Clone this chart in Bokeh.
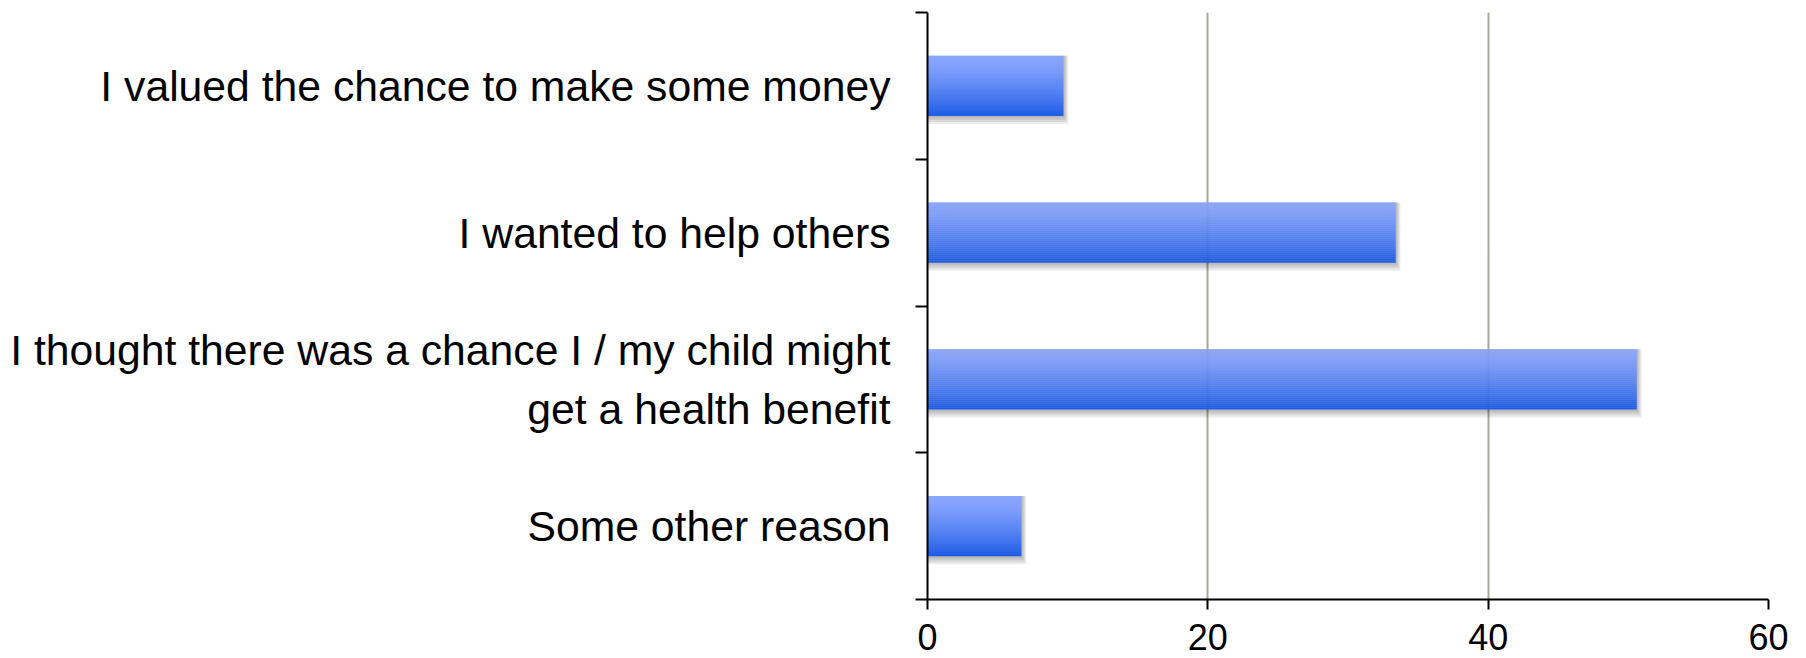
import numpy as np
from bokeh.plotting import figure
from bokeh.models import (Range1d, LinearAxis, FixedTicker, ColumnDataSource, Grid)
from bokeh.transform import dodge
from bokeh.embed import file_html
from bokeh.resources import INLINE

categories = [
    "I valued the chance to make some money",
    "I wanted to help others",
    "I thought there was a chance I / my child might\nget a health benefit",
    "Some other reason",
]
values = [9.7, 33.4, 50.6, 6.7]
x_ticks = [0, 20, 40, 60]
x_max = 60

n = len(categories)
ypos = [n - 1 - i + 0.5 for i in range(n)]   # slot centres, first category on top
src = ColumnDataSource(dict(cat=categories, val=values, y=ypos))

p = figure(width=1806, height=658,
           y_range=Range1d(0, n),
           x_range=Range1d(0, x_max),
           output_backend="svg", toolbar_location=None,
           x_axis_location=None, y_axis_location=None,
           min_border_left=927, min_border_right=38,
           min_border_top=12, min_border_bottom=59)
p.outline_line_color = None
p.background_fill_color = "white"
p.border_fill_color = "white"
p.center = []

# grid lines
p.add_layout(Grid(dimension=0, ticker=FixedTicker(ticks=x_ticks[1:]),
                  grid_line_color="#a8a898", grid_line_width=2))

bar_h = 0.41
px_x = x_max / 841.0
px_y = 1.0 / 146.75

# soft shadow
for k in range(1, 5):
    p.hbar(y=dodge('y', -k * px_y), right=dodge('val', 1.2 * k * px_x), left=0,
           height=bar_h + 2 * k * px_y, source=src,
           fill_color="black", fill_alpha=0.075, line_color=None)

# gradient bars
top = np.array([138, 166, 255])
bot = np.array([30, 92, 228])
N = 30
for i in range(N):
    t = (i + 0.5) / N
    tt = t ** 1.35
    c = top + (bot - top) * tt
    col = "#%02x%02x%02x" % tuple(int(round(v)) for v in c)
    off = bar_h / 2 - (i + 0.5) * bar_h / N
    p.hbar(y=dodge('y', off), right='val', left=0,
           height=bar_h / N * 1.08, source=src,
           fill_color=col, line_color=None)

# axes
slot_axis = LinearAxis(ticker=FixedTicker(ticks=list(range(n + 1)), minor_ticks=[]),
                       major_tick_out=12, major_tick_in=0,
                       minor_tick_out=0, minor_tick_in=0,
                       axis_line_width=2, major_tick_line_width=2,
                       axis_line_color="black", major_tick_line_color="black",
                       major_label_text_font_size="0px", major_label_standoff=0,
                       major_label_overrides={i: "" for i in range(n + 1)})
p.add_layout(slot_axis, "left")

cat_axis = LinearAxis(ticker=FixedTicker(ticks=ypos, minor_ticks=[]),
                      major_label_overrides={y: c for y, c in zip(ypos, categories)},
                      major_tick_out=0, major_tick_in=0,
                      minor_tick_out=0, minor_tick_in=0,
                      axis_line_color=None, major_tick_line_color=None,
                      major_label_standoff=25,
                      major_label_text_font_size="42.7px",
                      major_label_text_font="Liberation Sans",
                      major_label_text_color="black",
                      major_label_text_line_height=1.22)
p.add_layout(cat_axis, "left")

xaxis = LinearAxis(ticker=FixedTicker(ticks=x_ticks, minor_ticks=[]),
                   major_tick_out=10, major_tick_in=0,
                   minor_tick_out=0, minor_tick_in=0,
                   axis_line_width=2, major_tick_line_width=2,
                   axis_line_color="black", major_tick_line_color="black",
                   major_label_text_font_size="36px",
                   major_label_text_font="Liberation Sans",
                   major_label_text_color="black",
                   major_label_text_line_height=0.8,
                   major_label_standoff=14)
p.add_layout(xaxis, "below")

open("out.html", "w").write(file_html(p, INLINE))
